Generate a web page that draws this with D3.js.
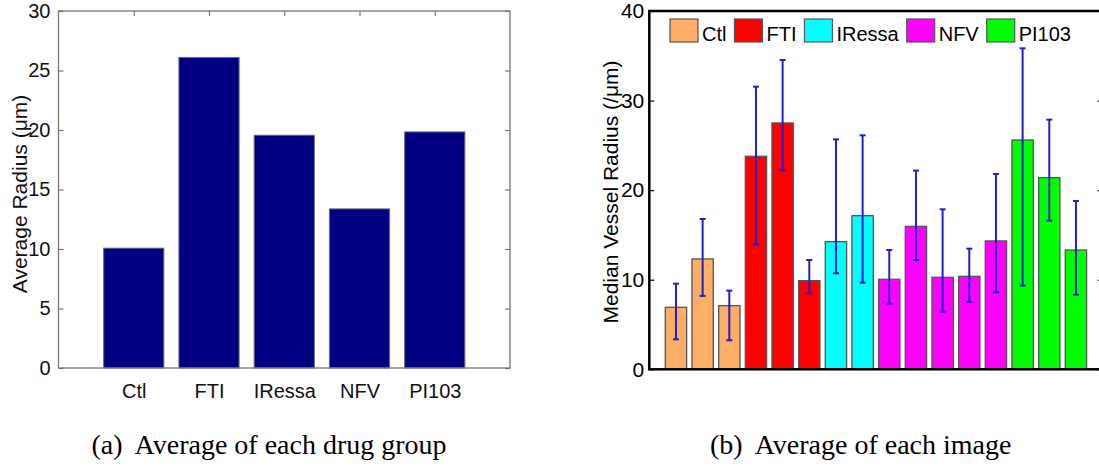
<!DOCTYPE html>
<html>
<head>
<meta charset="utf-8">
<script src="https://cdn.jsdelivr.net/npm/d3@7"></script>
<style>
  body { margin: 0; background: #fff; }
  svg { display: block; }
  text { font-family: "Liberation Sans", Arial, sans-serif; }
</style>
</head>
<body>
<div id="chart"></div>
<script>
// (a) drug group averages
const groups = ["Ctl", "FTI", "IRessa", "NFV", "PI103"];
const groupMeans = [10.07, 26.1, 19.56, 13.37, 19.84];
const yTicksA = [0, 5, 10, 15, 20, 25, 30];

// (b) per image medians with error range
const imageGroup = ["Ctl", "Ctl", "Ctl", "FTI", "FTI", "FTI", "IRessa", "IRessa",
  "NFV", "NFV", "NFV", "NFV", "NFV", "PI103", "PI103", "PI103"];
const imageMedian = [6.92, 12.32, 7.11, 23.78, 27.5, 9.9, 14.25, 17.15,
  10.05, 15.96, 10.27, 10.38, 14.33, 25.6, 21.4, 13.32];
const imageUpper = [9.56, 16.78, 8.78, 31.55, 34.53, 12.2, 25.67, 26.12,
  13.32, 22.18, 17.86, 13.47, 21.8, 35.83, 27.87, 18.79];
const imageLower = [3.35, 8.19, 3.24, 13.95, 22.21, 8.48, 10.72, 9.67,
  7.33, 12.2, 6.44, 7.52, 8.6, 9.34, 16.6, 8.33];
const yTicksB = [0, 10, 20, 30, 40];

const COLORS = { Ctl: "#fdad66", FTI: "#ff0000", IRessa: "#00ffff", NFV: "#ff00ff", PI103: "#00ff00" };

const W = 1099, H = 468;
const svg = d3.select("#chart").append("svg")
  .attr("width", W).attr("height", H);

// ---------- left panel ----------
const A = { left: 58.5, right: 510, top: 11, bottom: 368 };
const xA = d3.scaleLinear().domain([0, groups.length + 1]).range([A.left, A.right]);
const yA = d3.scaleLinear().domain([0, 30]).range([A.bottom, A.top]);
const gA = svg.append("g");
const bwA = (xA(1) - xA(0)) * 0.8;

gA.selectAll("rect.bar")
  .data(groupMeans)
  .enter().append("rect")
    .attr("class", "bar")
    .attr("x", (d, i) => xA(i + 1) - bwA / 2)
    .attr("y", d => yA(d))
    .attr("width", bwA)
    .attr("height", d => yA(0) - yA(d))
    .attr("fill", "#000080")
    .attr("stroke", "#6a6a7a")
    .attr("stroke-width", 1);

gA.append("rect")
  .attr("x", A.left).attr("y", A.top)
  .attr("width", A.right - A.left).attr("height", A.bottom - A.top)
  .attr("fill", "none").attr("stroke", "#777").attr("stroke-width", 1.3);

const styleAxis = (g, color, showText) => {
  g.select(".domain").remove();
  g.selectAll(".tick line").attr("stroke", color).attr("stroke-width", 1.2);
  g.selectAll(".tick text")
    .attr("fill", "#111")
    .style("font-size", "20px")
    .style("font-family", '"Liberation Sans", Arial, sans-serif')
    .style("display", showText ? null : "none");
};

gA.append("g")
  .attr("transform", `translate(${A.left},0)`)
  .call(d3.axisLeft(yA).tickValues(yTicksA).tickSize(-5).tickPadding(8))
  .call(g => styleAxis(g, "#777", true));
gA.append("g")
  .attr("transform", `translate(${A.right},0)`)
  .call(d3.axisRight(yA).tickValues(yTicksA).tickSize(-5))
  .call(g => styleAxis(g, "#777", false));
gA.append("g")
  .attr("transform", `translate(0,${A.top})`)
  .call(d3.axisTop(xA).tickValues(d3.range(1, groups.length + 1)).tickSize(-5))
  .call(g => styleAxis(g, "#777", false));
gA.append("g")
  .attr("transform", `translate(0,${A.bottom})`)
  .call(d3.axisBottom(xA).tickValues(d3.range(1, groups.length + 1))
    .tickFormat(d => groups[d - 1]).tickSize(0).tickPadding(16))
  .call(g => styleAxis(g, "#777", true));

gA.append("text")
  .attr("transform", `translate(27,194) rotate(-90)`)
  .attr("text-anchor", "middle")
  .style("font-size", "21px")
  .attr("fill", "#111")
  .text("Average Radius (\u03bcm)");

// ---------- right panel ----------
const B = { left: 649.3, right: 1102.6, top: 11, bottom: 369.3 };
const xB = d3.scaleLinear().domain([0, imageMedian.length + 1]).range([B.left, B.right]);
const yB = d3.scaleLinear().domain([0, 40]).range([B.bottom, B.top]);
const gB = svg.append("g");
const bwB = (xB(1) - xB(0)) * 0.8;

gB.selectAll("rect.bar")
  .data(imageMedian)
  .enter().append("rect")
    .attr("class", "bar")
    .attr("x", (d, i) => xB(i + 1) - bwB / 2)
    .attr("y", d => yB(d))
    .attr("width", bwB)
    .attr("height", d => yB(0) - yB(d))
    .attr("fill", (d, i) => COLORS[imageGroup[i]])
    .attr("stroke", "#555")
    .attr("stroke-width", 1.3);

// error bars
const eb = gB.selectAll("g.err")
  .data(imageMedian.map((d, i) => ({ i, lo: imageLower[i], hi: imageUpper[i] })))
  .enter().append("g").attr("class", "err")
    .attr("stroke", "#1f1fd0").attr("stroke-width", 2);
eb.append("line")
  .attr("x1", d => xB(d.i + 1)).attr("x2", d => xB(d.i + 1))
  .attr("y1", d => yB(d.lo)).attr("y2", d => yB(d.hi));
eb.append("line")
  .attr("x1", d => xB(d.i + 1) - 3).attr("x2", d => xB(d.i + 1) + 3)
  .attr("y1", d => yB(d.lo)).attr("y2", d => yB(d.lo));
eb.append("line")
  .attr("x1", d => xB(d.i + 1) - 3).attr("x2", d => xB(d.i + 1) + 3)
  .attr("y1", d => yB(d.hi)).attr("y2", d => yB(d.hi));

gB.append("rect")
  .attr("x", B.left).attr("y", B.top)
  .attr("width", B.right - B.left).attr("height", B.bottom - B.top)
  .attr("fill", "none").attr("stroke", "#000").attr("stroke-width", 2.5);

gB.append("g")
  .attr("transform", `translate(${B.left},0)`)
  .call(d3.axisLeft(yB).tickValues(yTicksB).tickSize(-5).tickPadding(5))
  .call(g => styleAxis(g, "#000", true))
  .call(g => g.selectAll(".tick text").style("font-size", "21px").attr("fill", "#000"));
gB.append("g")
  .attr("transform", `translate(${B.right},0)`)
  .call(d3.axisRight(yB).tickValues(yTicksB).tickSize(-5))
  .call(g => styleAxis(g, "#000", false));

gB.append("text")
  .attr("transform", `translate(618,192) rotate(-90)`)
  .attr("text-anchor", "middle")
  .style("font-size", "21px")
  .attr("fill", "#000")
  .text("Median Vessel Radius (/\u03bcm)");

// legend
const leg = gB.append("g").attr("transform", "translate(670,19)");
let lx = 0;
groups.forEach(name => {
  const item = leg.append("g").attr("transform", `translate(${lx},0)`);
  item.append("rect")
    .attr("width", 28).attr("height", 23)
    .attr("fill", COLORS[name]).attr("stroke", "#555").attr("stroke-width", 1.2);
  const t = item.append("text")
    .attr("x", 32).attr("y", 21.5)
    .style("font-size", "20px")
    .attr("fill", "#000")
    .text(name);
  lx += 32 + t.node().getComputedTextLength() + 8;
});

// ---------- captions ----------
const captions = [
  { x: 91.5, label: "(a)", text: "Average of each drug group" },
  { x: 710, label: "(b)", text: "Average of each image" }
];
captions.forEach(c => {
  const t = svg.append("text")
    .attr("x", c.x).attr("y", 454)
    .style("font-family", '"Liberation Serif", "Times New Roman", serif')
    .style("font-size", "28px")
    .attr("fill", "#000");
  t.append("tspan").text(c.label);
  t.append("tspan").attr("dx", 12).text(c.text);
});
</script>
</body>
</html>
